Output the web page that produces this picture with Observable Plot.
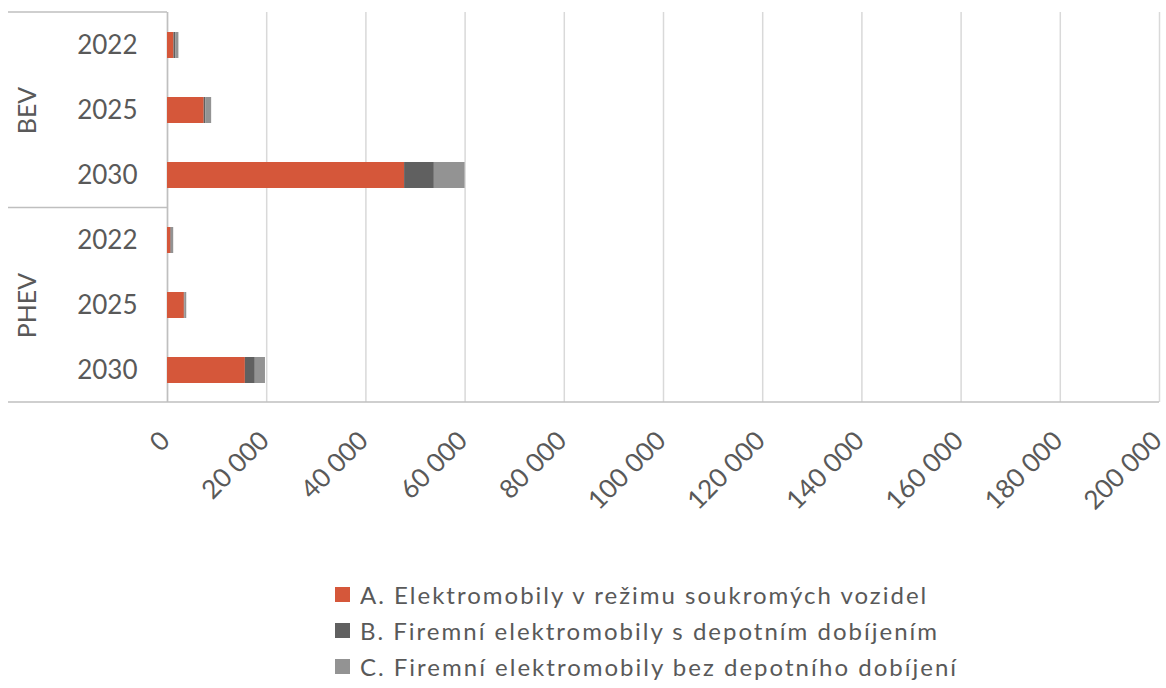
<!DOCTYPE html>
<html>
<head>
<meta charset="utf-8">
<script src="https://cdn.jsdelivr.net/npm/d3@7"></script>
<script src="https://cdn.jsdelivr.net/npm/@observablehq/plot@0.6"></script>
<style>
  html, body { margin: 0; padding: 0; background: #fff; }
  #chart { width: 1166px; }
  .lg-swatches { font-family: Lato, sans-serif !important; font-size: 24px !important; letter-spacing: 2px; color: #595959; margin-left: 335px; margin-top: 56px; }
  .lg-swatches .lg-swatch { height: 36px; padding-bottom: 0; display: flex; align-items: center; }
  .lg-swatches .lg-swatch > svg { margin-right: 10px; }
</style>
</head>
<body>
<div id="chart"></div>
<script>
// Vehicle types and forecast years (rows of the chart)
const types = ["BEV", "PHEV"];
const years = ["2022", "2025", "2030"];

// Charging segments (stacked series)
const seriesNames = [
  "A. Elektromobily v režimu soukromých vozidel",
  "B. Firemní elektromobily s depotním dobíjením",
  "C. Firemní elektromobily bez depotního dobíjení"
];
const seriesColors = ["#D5573A", "#606060", "#939393"];

// Values per row, in order BEV 2022, 2025, 2030, PHEV 2022, 2025, 2030
const valuesA = [1300, 7400, 47800, 700, 3400, 15700];
const valuesB = [350, 300, 6000, 100, 100, 2000];
const valuesC = [650, 1200, 6200, 450, 380, 2050];

// X axis ticks
const xTicks = [0, 20000, 40000, 60000, 80000, 100000, 120000, 140000, 160000, 180000, 200000];

const rowKeys = types.flatMap(t => years.map(y => `${t} ${y}`));
const seriesValues = [valuesA, valuesB, valuesC];
const rows = seriesNames.flatMap((s, si) =>
  rowKeys.map((k, i) => ({key: k, series: s, value: seriesValues[si][i]}))
);

const fmt = d => d3.format(",")(d).replace(/,/g, " ");
const textColor = "#595959";

const plot = Plot.plot({
  width: 1166,
  height: 520,
  marginTop: 12,
  marginBottom: 118,
  marginLeft: 167,
  marginRight: 7,
  style: {fontFamily: "Lato, sans-serif", color: textColor, background: "#fff", overflow: "visible"},
  x: {domain: [0, 200000]},
  y: {domain: rowKeys, paddingInner: 0.6, paddingOuter: 0.3},
  color: {domain: seriesNames, range: seriesColors},
  marks: [
    Plot.gridX(xTicks, {stroke: "#D9D9D9", strokeOpacity: 1, strokeWidth: 1.5}),
    Plot.ruleX([0], {stroke: "#BFBFBF", strokeWidth: 1.5}),
    Plot.barX(rows, Plot.stackX({x: "value", y: "key", fill: "series"})),
    Plot.axisY({
      tickSize: 0, tickPadding: 30, label: null, fontSize: 26, fill: textColor,
      tickFormat: d => d.split(" ")[1]
    }),
    Plot.axisX({
      ticks: xTicks, tickSize: 0, tickPadding: 34, tickRotate: -45, label: null,
      fontSize: 26, fill: textColor, tickFormat: fmt, dx: -2
    }),
    Plot.text(types, {
      y: d => `${d} 2025`, text: d => d, frameAnchor: "left", textAnchor: "middle",
      dx: -140, rotate: -90, fontSize: 25, fill: textColor
    })
  ]
});

// Category table borders on the left and the bottom axis line
const ys = plot.scale("y");
const xs = plot.scale("x");
const [yTop, yBottom] = ys.range;
const gap = ys.step - ys.bandwidth;
const yMid = ys.apply("BEV 2030") + ys.bandwidth + gap / 2;
const xLeft = 8;
const x0 = xs.apply(0);
const x1 = xs.apply(200000);
const borders = d3.select(plot).append("g").attr("stroke", "#BFBFBF").attr("stroke-width", 1.5);
[[xLeft, yTop, x0, yTop], [xLeft, yMid, x0, yMid], [xLeft, yBottom, x1, yBottom]].forEach(([a, b, c, d]) => {
  borders.append("line").attr("x1", a).attr("y1", b).attr("x2", c).attr("y2", d);
});

document.getElementById("chart").append(plot);

const legend = Plot.legend({
  legend: "swatches",
  className: "lg",
  columns: 1,
  swatchSize: 15,
  color: {domain: seriesNames, range: seriesColors}
});
document.getElementById("chart").append(legend);
</script>
</body>
</html>
